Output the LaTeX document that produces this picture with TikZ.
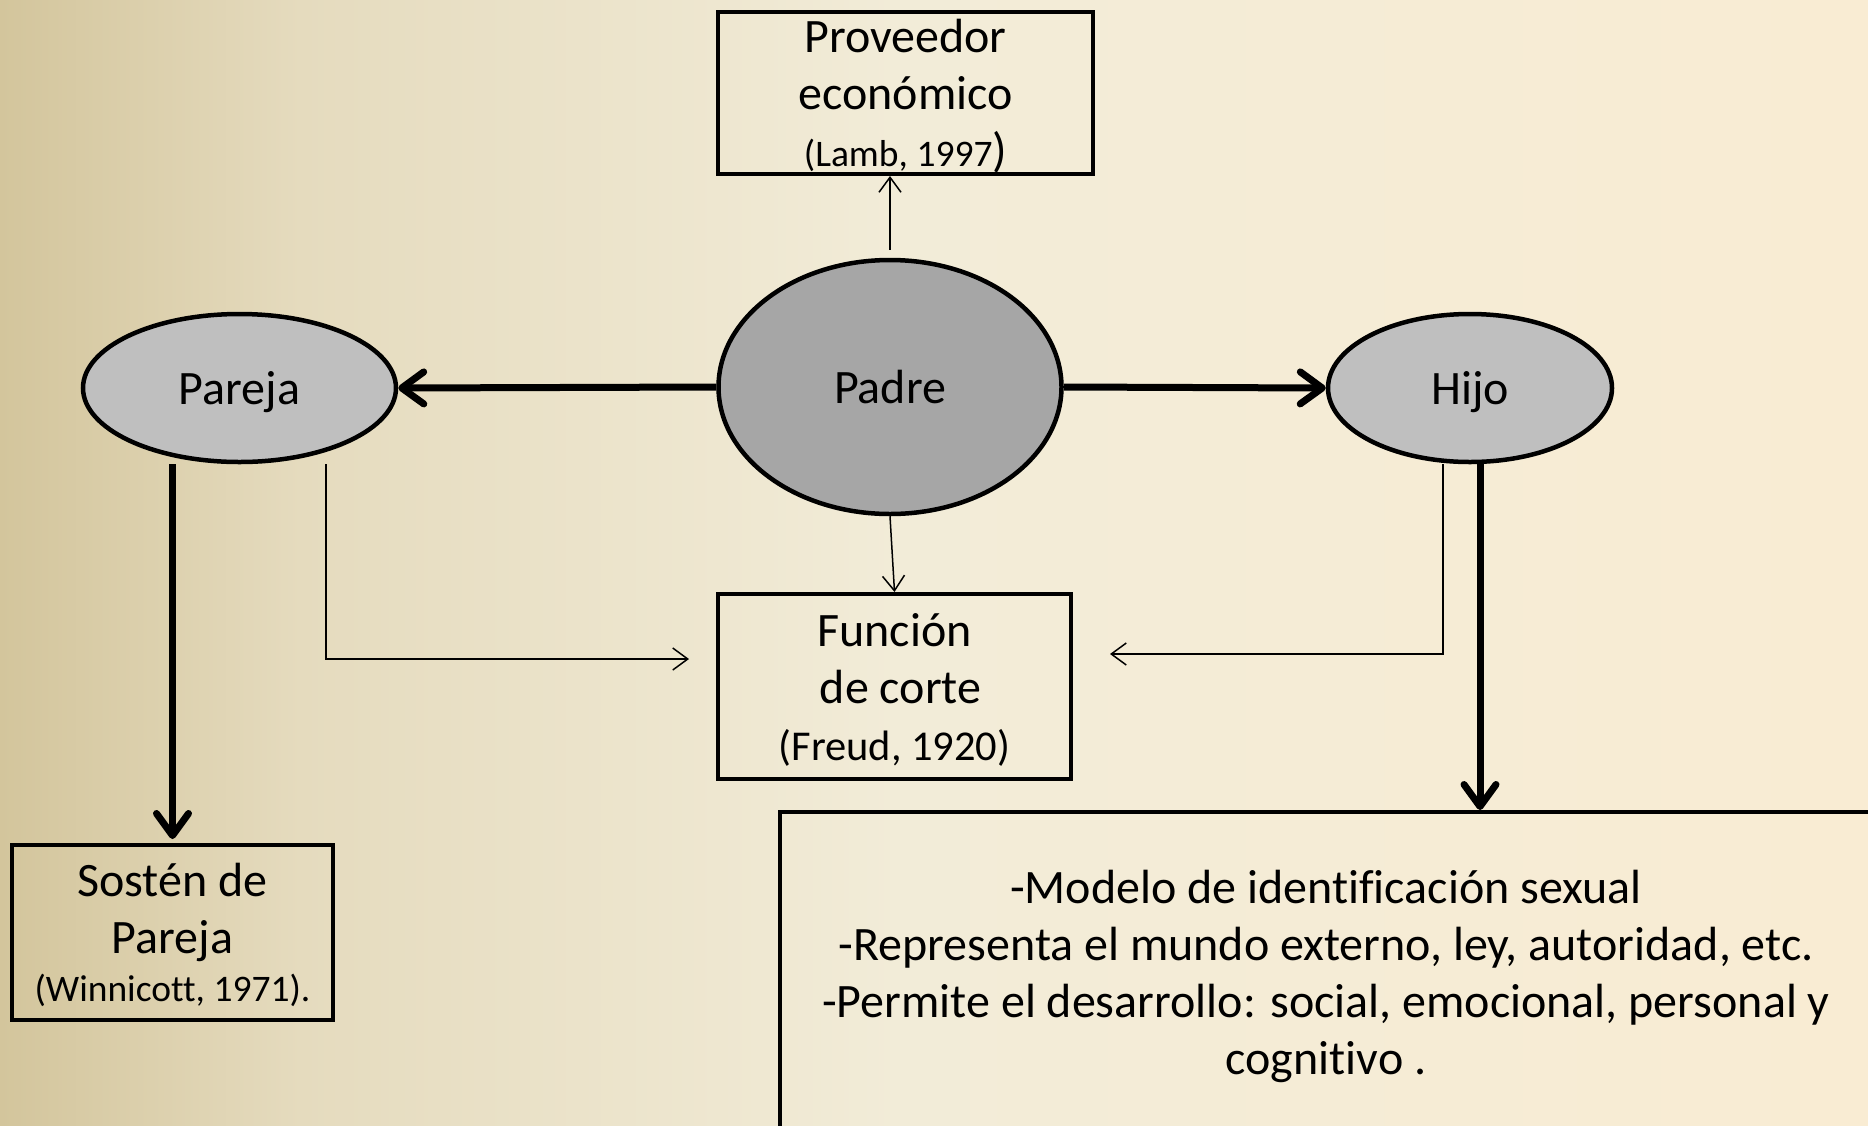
\documentclass[tikz,border=0pt]{standalone}
\usepackage{fontspec}
\setmainfont{Carlito}[Ligatures=CommonOff]
\usetikzlibrary{arrows.meta,shapes.geometric}
\definecolor{bgA}{RGB}{211,197,156}
\definecolor{bgB}{RGB}{229,219,190}
\definecolor{bgC}{RGB}{242,236,216}
\definecolor{bgD}{RGB}{249,236,211}
\definecolor{padrefill}{RGB}{166,166,166}
\definecolor{ovalfill}{RGB}{191,191,191}
\begin{document}
\begin{tikzpicture}[x=1pt,y=-1pt,
  box/.style={draw,line width=4pt,rectangle,inner sep=0pt,align=center,font=\fontsize{48}{57}\selectfont},
  oval/.style={draw,line width=4.5pt,ellipse,inner sep=0pt,text depth=-2pt,font=\fontsize{48}{57}\selectfont},
  thickarrow/.style={line width=7pt,-{Straight Barb[length=22pt,width=32pt,round]}},
  thinarrow/.style={line width=1.5pt,-{Straight Barb[length=15pt,width=22pt]}}]
\useasboundingbox (0,0) rectangle (1868,1125);
\clip (0,0) rectangle (1868,1125);
% background
\shade[left color=bgA,right color=bgB] (0,0) rectangle (301,1125);
\shade[left color=bgB,right color=bgC] (300,0) rectangle (901,1125);
\shade[left color=bgC,right color=bgD] (900,0) rectangle (1868,1125);

% nodes
\node[box,minimum width=375pt,minimum height=162pt,text depth=1pt] (prov) at (905.5,93)
  {Proveedor\\económico\\{\fontsize{37.5}{57}\selectfont(Lamb, 1997}{\fontsize{48}{57}\selectfont)}};
\node[oval,fill=padrefill,minimum width=343pt,minimum height=254pt] (padre) at (890,387) {Padre};
\node[oval,fill=ovalfill,minimum width=313pt,minimum height=148pt] (pareja) at (239.5,388) {Pareja};
\node[oval,fill=ovalfill,minimum width=284pt,minimum height=148pt] (hijo) at (1470,388) {Hijo};
\node[box,minimum width=353pt,minimum height=185pt,text depth=0pt] (funcion) at (894.5,686.5)
  {Función\\\hspace*{12pt}de corte\\{\fontsize{42.5}{57}\selectfont(Freud, 1920)}};
\node[box,minimum width=321pt,minimum height=175pt,text depth=-5pt] (sosten) at (172.5,932.5)
  {Sostén de\\Pareja\\[-8.5pt]{\fontsize{37.5}{51}\selectfont(Winnicott, 1971).}};
\node[box,minimum width=1092pt,minimum height=322pt,text depth=2pt] (rol) at (1326,973)
  {-Modelo de identificación sexual\\-Representa el mundo externo, ley, autoridad, etc.\\-Permite el desarrollo: social, emocional, personal y\\cognitivo .};

% connectors
\draw[thinarrow,shorten <=8pt] (padre.north) -- (padre.north |- prov.south);
\draw[thickarrow] (padre.west) -- (pareja.east);
\draw[thickarrow] (padre.east) -- (hijo.west);
\draw[thinarrow] (padre.south) -- (funcion.north);
\draw[thinarrow] ([xshift=86.5pt]pareja.south) |- ([xshift=-27pt,yshift=27.5pt]funcion.west);
\draw[thinarrow] ([xshift=-27pt]hijo.south) |- ([xshift=37pt,yshift=32.5pt]funcion.east);
\draw[thickarrow,shorten >=4pt] (sosten.north |- pareja.south) -- (sosten.north);
\draw[thickarrow] ([xshift=10pt]hijo.south) -- ([xshift=10pt]hijo.south |- rol.north);
\end{tikzpicture}
\end{document}
